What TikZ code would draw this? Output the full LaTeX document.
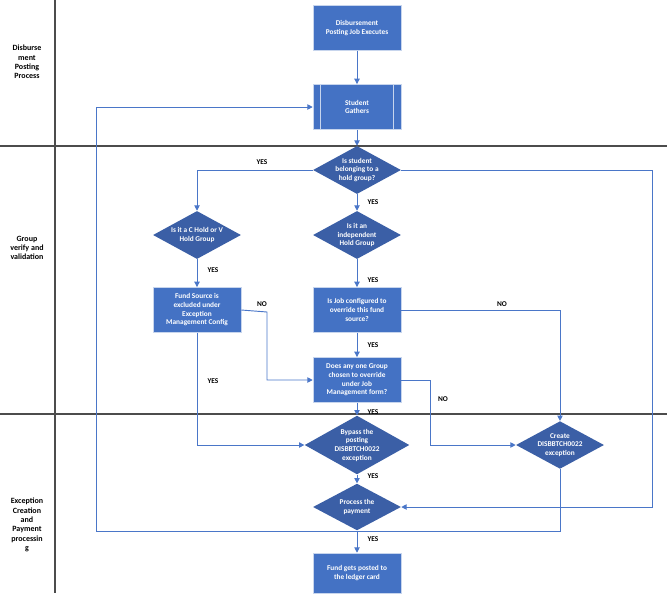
\documentclass[tikz,border=0pt]{standalone}
\usepackage{fontspec}
\setmainfont{Carlito}
\usetikzlibrary{shapes.geometric,arrows.meta,positioning}
\definecolor{boxblue}{HTML}{4472C4}
\definecolor{diablue}{HTML}{3B5FA6}
\definecolor{lineblue}{HTML}{4A76C8}

\begin{document}
\begin{tikzpicture}[
    x=0.75pt, y=-0.75pt,
    font=\fontsize{5.5}{6.5}\selectfont\bfseries,
    box/.style={rectangle, draw=white!70!boxblue, fill=boxblue, text=white, align=center, minimum width=66pt, minimum height=34pt, inner sep=1pt},
    decision/.style={diamond, fill=diablue, text=white, align=center, aspect=1.85, inner sep=0pt, minimum width=66pt, minimum height=36pt},
    arrow/.style={-{Triangle[length=4pt,width=4pt]}, draw=lineblue, line width=0.7pt},
    lbl/.style={font=\fontsize{5.5}{6.5}\selectfont\bfseries, text=black},
    lane/.style={align=center, font=\fontsize{6}{7}\selectfont\bfseries}
]
\useasboundingbox (0,0) rectangle (667,593);

% Lanes
\draw[gray!60!black, line width=0.8pt] (55,0) -- (55,593);
\draw[gray!60!black, line width=0.8pt] (0,146) -- (667,146);
\draw[gray!60!black, line width=0.8pt] (0,414) -- (667,414);
\node[lane] (lane1) at (27,62) {Disburse\\ment\\Posting\\Process};
\node[lane] (lane2) at (27,248) {Group\\verify and\\validation};
\node[lane] (lane3) at (27,525) {Exception\\Creation\\and\\Payment\\processin\\g};

% Nodes
\node[box] (start) at (357,28) {Disbursement\\Posting Job Executes};
\node[box] (gather) at (357,107) {Student\\Gathers};
\draw[white!70!boxblue, line width=0.6pt] ([xshift=6pt]gather.north west) -- ([xshift=6pt]gather.south west);
\draw[white!70!boxblue, line width=0.6pt] ([xshift=-6pt]gather.north east) -- ([xshift=-6pt]gather.south east);
\node[decision] (hold) at (357,170) {Is student\\belonging to a\\hold group?};
\node[decision] (cvhold) at (197,235) {Is it a C Hold or V\\Hold Group};
\node[decision] (indep) at (357,235) {Is it an\\independent\\Hold Group};
\node[box] (fund) at (197,310) {Fund Source is\\excluded under\\Exception\\Management Config};
\node[box] (jobcfg) at (357,310) {Is Job configured to\\override this fund\\source?};
\node[box] (anygrp) at (357,380) {Does any one Group\\chosen to override\\under Job\\Management form?};
\node[decision, minimum height=44pt] (bypass) at (357,445) {Bypass the\\posting\\DISBBTCH0022\\exception};
\node[decision, minimum width=62pt, minimum height=33pt] (create) at (560,445) {Create\\DISBBTCH0022\\exception};
\node[decision, minimum height=35pt] (payment) at (357,507) {Process the\\payment};
\node[box, minimum height=30pt] (posted) at (357,573) {Fund gets posted to\\the ledger card};

% Arrows
\draw[arrow] (start) -- (gather);
\draw[arrow] (gather) -- (hold);
\draw[arrow] (hold.west) -| (cvhold.north);
\node[lbl] (yes1) at (262,162) {YES};
\draw[arrow] (hold) -- (indep);
\node[lbl] (yes2) at (373,202) {YES};
\draw[arrow] (hold.east) -- (652,170) |- (payment.east);
\draw[arrow] (cvhold) -- (fund);
\node[lbl] (yes3) at (213,270) {YES};
\draw[arrow] (indep) -- (jobcfg);
\node[lbl] (yes4) at (373,280) {YES};
\draw[arrow] (fund.east) -- (267,312) |- (anygrp.west);
\node[lbl] (no1) at (262,304) {NO};
\draw[arrow] (jobcfg.east) -| (create.north);
\node[lbl] (no2) at (502,304) {NO};
\draw[arrow] (jobcfg) -- (anygrp);
\node[lbl] (yes5) at (373,345) {YES};
\draw[arrow] (anygrp) -- (bypass);
\node[lbl] (yes6) at (373,412) {YES};
\draw[arrow] (anygrp.east) -- (430,380) |- (create.west);
\node[lbl] (no3) at (443,399) {NO};
\draw[arrow] (fund.south) |- (bypass.west);
\node[lbl] (yes7) at (213,381) {YES};
\draw[arrow] (bypass) -- (payment);
\node[lbl] (yes8) at (373,476) {YES};
\draw[arrow] (create.south) -- (560,531) -- (96,531) -- (96,107) -- (gather.west);
\draw[arrow] (payment) -- (posted);
\node[lbl] (yes9) at (373,539) {YES};
\end{tikzpicture}
\end{document}
